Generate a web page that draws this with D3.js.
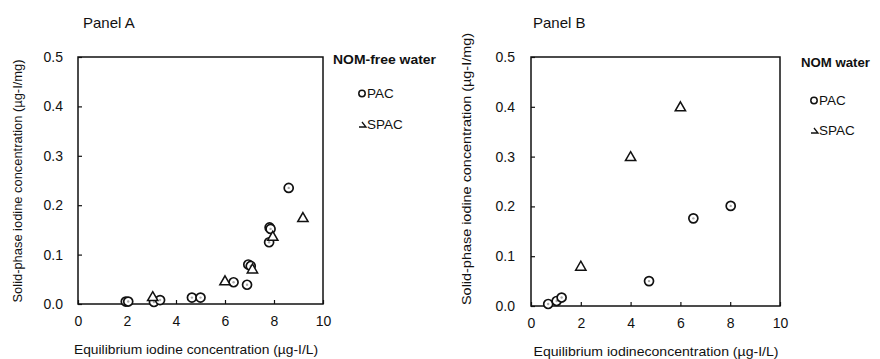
<!DOCTYPE html>
<html><head><meta charset="utf-8">
<script src="https://cdn.jsdelivr.net/npm/d3@7"></script>
<style>body{margin:0;background:#fff}svg{display:block}text{font-family:"Liberation Sans",Arial,sans-serif;fill:#111}</style>
</head><body><svg id="c" width="880" height="359"></svg>
<script>
// Data
const xTicks = [0, 2, 4, 6, 8, 10];
const yTicks = [0.0, 0.1, 0.2, 0.3, 0.4, 0.5];
const aPAC_x = [1.95, 2.05, 3.1, 3.35, 4.65, 5.0, 6.35, 6.9, 6.95, 7.05, 7.82, 7.86, 7.8, 8.6];
const aPAC_y = [0.005, 0.005, 0.004, 0.008, 0.013, 0.013, 0.044, 0.039, 0.08, 0.077, 0.155, 0.152, 0.125, 0.235];
const aSPAC_x = [3.05, 6.0, 7.12, 7.95, 9.18];
const aSPAC_y = [0.015, 0.047, 0.071, 0.137, 0.175];
const bPAC_x = [0.69, 1.03, 1.23, 4.74, 6.52, 8.02];
const bPAC_y = [0.004, 0.01, 0.017, 0.05, 0.176, 0.201];
const bSPAC_x = [2.0, 4.0, 6.0];
const bSPAC_y = [0.08, 0.3, 0.4];

const panels = [
  {title:"Panel A", tx:83, left:78, right:323, top:57, bottom:304,
   ytitle:"Solid-phase iodine concentration  (µg-I/mg)", ytx:18, ytc:181, ytl:243, ytfs:12.5,
   xtitle:"Equilibrium iodine concentration (µg-I/L)", xtc:196, xty:354, xtl:244,
   legTitle:"NOM-free water", ltl:103, lx:333, ly:64, lm:359, l1:98, l2:129,
   pac:[aPAC_x,aPAC_y], spac:[aSPAC_x,aSPAC_y], ytickEnd:63},
  {title:"Panel B", tx:533, left:531, right:780, top:57, bottom:306,
   ytitle:"Solid-phase iodine concentration (µg-I/mg)", ytx:467, ytc:169, ytl:272, ytfs:13.5,
   xtitle:"Equilibrium iodineconcentration (µg-I/L)", xtc:656, xty:356, xtl:245,
   legTitle:"NOM water", ltl:69, lx:801, ly:67, lm:811, l1:105, l2:135,
   pac:[bPAC_x,bPAC_y], spac:[bSPAC_x,bSPAC_y], ytickEnd:515}
];

const svg = d3.select("#c");
const tri = d3.symbol().type(d3.symbolTriangle).size(46);

panels.forEach(p => {
  const x = d3.scaleLinear().domain([0,10]).range([p.left,p.right]);
  const y = d3.scaleLinear().domain([0,0.5]).range([p.bottom,p.top]);
  const g = svg.append("g");
  g.append("text").attr("x",p.tx).attr("y",28).attr("font-size",15).text(p.title);
  // frame
  g.append("rect").attr("x",p.left).attr("y",p.top).attr("width",p.right-p.left).attr("height",p.bottom-p.top)
    .attr("fill","none").attr("stroke","#111").attr("stroke-width",1.5);
  // x axis ticks inward
  const xa = d3.axisBottom(x).tickValues(xTicks).tickSizeInner(-4).tickSizeOuter(0).tickPadding(12).tickFormat(d3.format("d"));
  const gx = g.append("g").attr("transform",`translate(0,${p.bottom})`).call(xa);
  gx.select(".domain").remove();
  gx.selectAll("line").attr("stroke","#111").attr("stroke-width",1.2);
  gx.selectAll("text").attr("font-size",14).attr("font-family","Liberation Sans, Arial").attr("fill","#111");
  const ya = d3.axisLeft(y).tickValues(yTicks).tickSizeInner(-4).tickSizeOuter(0).tickPadding(p.left-p.ytickEnd).tickFormat(d3.format(".1f"));
  const gy = g.append("g").attr("transform",`translate(${p.left},0)`).call(ya);
  gy.select(".domain").remove();
  gy.selectAll("line").attr("stroke","#111").attr("stroke-width",1.2);
  gy.selectAll("text").attr("font-size",14).attr("font-family","Liberation Sans, Arial").attr("fill","#111");
  // titles
  g.append("text").attr("transform",`translate(${p.ytx+4},${p.ytc}) rotate(-90)`).attr("text-anchor","middle")
    .attr("font-size",p.ytfs).attr("textLength",p.ytl).attr("lengthAdjust","spacingAndGlyphs").text(p.ytitle);
  g.append("text").attr("x",p.xtc).attr("y",p.xty).attr("text-anchor","middle").attr("font-size",13.5)
    .attr("textLength",p.xtl).attr("lengthAdjust","spacingAndGlyphs").text(p.xtitle);
  // points
  const pacData = p.pac[0].map((v,i)=>({x:v,y:p.pac[1][i]}));
  const spacData = p.spac[0].map((v,i)=>({x:v,y:p.spac[1][i]}));
  g.selectAll(".pac").data(pacData).join("g").attr("class","pac")
    .attr("transform",d=>`translate(${x(d.x)},${y(d.y)})`)
    .each(function(){
      const s=d3.select(this);
      s.append("circle").attr("r",4.5).attr("fill","#fff").attr("stroke","#111").attr("stroke-width",1.7);
      s.append("circle").attr("r",1.2).attr("fill","#aaa");
    });
  g.selectAll(".spac").data(spacData).join("path").attr("class","spac")
    .attr("d",tri).attr("transform",d=>`translate(${x(d.x)},${y(d.y)+1})`)
    .attr("fill","#fff").attr("stroke","#111").attr("stroke-width",1.5);
  // legend
  g.append("text").attr("x",p.lx).attr("y",p.ly).attr("font-size",13.5).attr("font-weight","bold")
    .attr("textLength",p.ltl).attr("lengthAdjust","spacingAndGlyphs").text(p.legTitle);
  g.append("circle").attr("cx",p.lm+3).attr("cy",p.l1-4.5).attr("r",3.2).attr("fill","none").attr("stroke","#111").attr("stroke-width",1.5);
  g.append("text").attr("x",p.lm+8).attr("y",p.l1).attr("font-size",13.5).text("PAC");
  g.append("path").attr("d",`M${p.lm},${p.l2-2} L${p.lm+7},${p.l2-2} L${p.lm+3},${p.l2-7}`).attr("fill","none").attr("stroke","#111").attr("stroke-width",1.3);
  g.append("text").attr("x",p.lm+8).attr("y",p.l2).attr("font-size",13.5).text("SPAC");
});
</script></body></html>
